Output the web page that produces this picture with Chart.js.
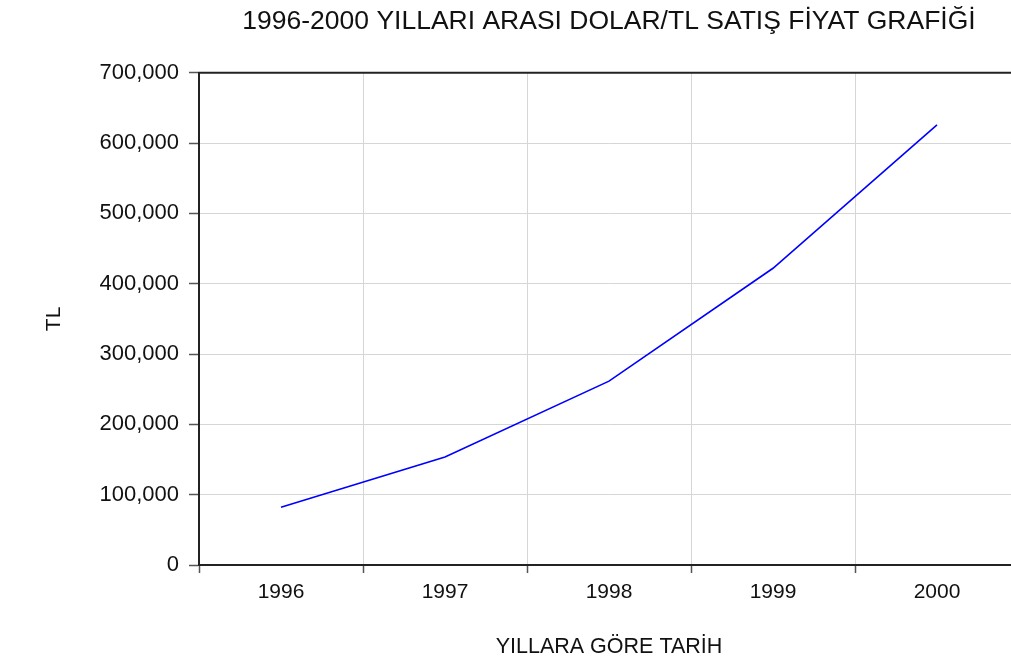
<!DOCTYPE html>
<html>
<head>
<meta charset="utf-8">
<script src="https://cdn.jsdelivr.net/npm/chart.js@4"></script>
<style>
  html, body { margin: 0; padding: 0; background: #fff; overflow: hidden; }
  canvas { display: block; }
</style>
</head>
<body>
<canvas id="kurChart" width="1030" height="666"></canvas>
<script>
// Yillik ortalama dolar satis kuru (TL)
const years = ["1996", "1997", "1998", "1999", "2000"];
const dolarSatis = [82000, 153500, 261500, 422000, 626000];
const yTicks = [0, 100000, 200000, 300000, 400000, 500000, 600000, 700000];

const FONT = "'Liberation Sans', Arial, sans-serif";

// ust cerceve cizgisi
const frameTop = {
  id: "frameTop",
  afterDraw(chart) {
    const { ctx, chartArea } = chart;
    ctx.save();
    ctx.strokeStyle = "#222";
    ctx.lineWidth = 2;
    ctx.beginPath();
    ctx.moveTo(chartArea.left - 1, chartArea.top);
    ctx.lineTo(chartArea.right, chartArea.top);
    ctx.stroke();
    ctx.restore();
  }
};

const ctx = document.getElementById("kurChart").getContext("2d");

new Chart(ctx, {
  type: "line",
  data: {
    labels: years,
    datasets: [{
      label: "Dolar/TL",
      data: dolarSatis,
      borderColor: "#0000ff",
      borderWidth: 1.6,
      pointRadius: 0,
      tension: 0,
      fill: false
    }]
  },
  options: {
    responsive: false,
    animation: false,
    layout: { padding: { left: 0, right: 11, top: 0, bottom: 0 } },
    plugins: {
      legend: { display: false },
      tooltip: { enabled: false },
      title: {
        display: true,
        fullSize: false,
        text: "1996-2000 YILLARI ARASI DOLAR/TL SATIŞ FİYAT GRAFİĞİ",
        color: "#111",
        font: { family: FONT, size: 26.5, weight: "normal", lineHeight: 1.2 },
        padding: { top: 6, bottom: 35 }
      }
    },
    scales: {
      x: {
        offset: true,
        grid: {
          offset: true,
          color: "#d6d6d6",
          lineWidth: 1,
          drawTicks: true,
          tickLength: 8,
          tickColor: "#555",
          tickWidth: 1.5
        },
        border: { color: "#222", width: 2 },
        ticks: {
          color: "#111",
          padding: 7,
          font: { family: FONT, size: 21 }
        },
        title: {
          display: true,
          text: "YILLARA GÖRE TARİH",
          color: "#111",
          font: { family: FONT, size: 21.5 },
          padding: { top: 0, bottom: 6 }
        },
        afterFit(scale) { scale.height = 101; }
      },
      y: {
        min: 0,
        max: 700000,
        afterBuildTicks(scale) {
          scale.ticks = yTicks.map(v => ({ value: v }));
        },
        grid: {
          color: "#d6d6d6",
          lineWidth: 1,
          tickLength: 10,
          tickColor: "#555",
          tickWidth: 1.5
        },
        border: { color: "#222", width: 2 },
        ticks: {
          color: "#111",
          padding: 10,
          font: { family: FONT, size: 22 },
          callback: v => v.toLocaleString("en-US")
        },
        title: {
          display: true,
          text: "TL",
          color: "#111",
          font: { family: FONT, size: 21 },
          padding: { top: 42, bottom: 0 }
        },
        afterFit(scale) { scale.width = 199; }
      }
    }
  },
  plugins: [frameTop]
});
</script>
</body>
</html>
